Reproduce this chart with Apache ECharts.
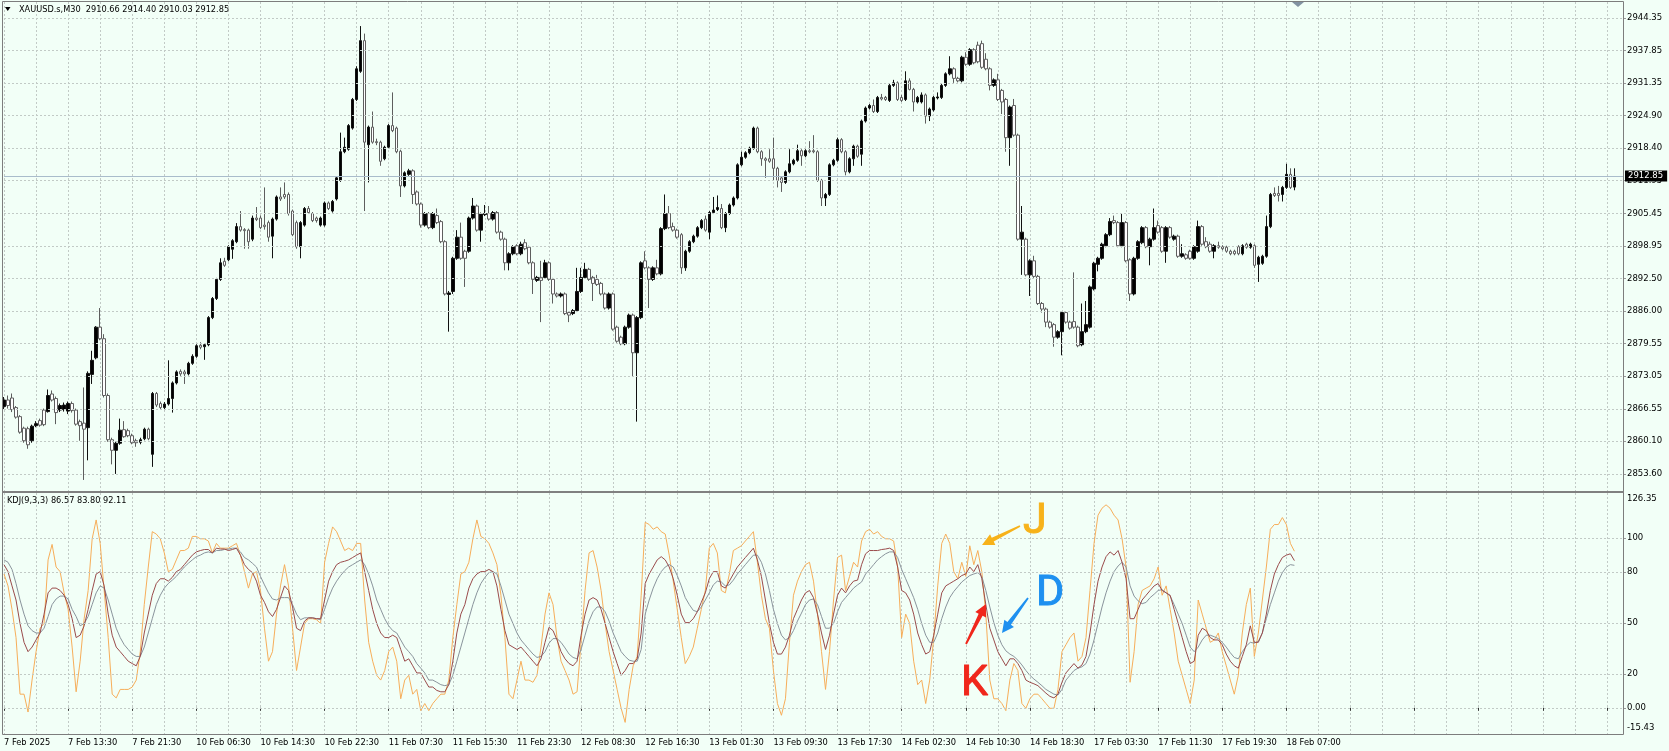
<!DOCTYPE html>
<html><head><meta charset="utf-8">
<script src="https://cdn.jsdelivr.net/npm/echarts@6.0.0/dist/echarts.min.js"></script>
<style>html,body{margin:0;padding:0;background:#F2FFF7;}#c{width:1669px;height:751px;}</style>
</head><body><div id="c"></div>
<script>
const symbolName = 'XAUUSD.s,M30';
const timeLabels = ['7 Feb 2025','7 Feb 13:30','7 Feb 21:30','10 Feb 06:30','10 Feb 14:30','10 Feb 22:30','11 Feb 07:30','11 Feb 15:30','11 Feb 23:30','12 Feb 08:30','12 Feb 16:30','13 Feb 01:30','13 Feb 09:30','13 Feb 17:30','14 Feb 02:30','14 Feb 10:30','14 Feb 18:30','17 Feb 03:30','17 Feb 11:30','17 Feb 19:30','18 Feb 07:00'];
const priceTicks = [2853.60,2860.10,2866.55,2873.05,2879.55,2886.00,2892.50,2898.95,2905.45,2911.95,2918.40,2924.90,2931.35,2937.85,2944.35];
const kdjGridValues = [0,20,50,80,100];
const kdjLabelPos = [-11.9,0,20,50,80,100,123.2];
const kdjLabelText = ['-15.43','0.00','20','50','80','100','126.35'];

const opens = [2867.0,2868.3,2868.7,2866.8,2865.0,2862.7,2862.6,2860.2,2863.2,2864.2,
2866.3,2866.0,2869.5,2868.6,2866.3,2866.4,2866.1,2867.6,2866.3,2864.0,
2863.7,2862.8,2873.4,2876.7,2882.8,2880.5,2869.2,2860.4,2858.3,2859.7,
2862.4,2862.2,2861.2,2860.2,2859.9,2860.6,2862.5,2857.5,2869.6,2867.6,
2866.8,2867.5,2868.6,2871.7,2874.0,2873.9,2873.5,2875.6,2877.0,2879.2,
2878.9,2879.3,2884.7,2888.5,2892.3,2895.9,2896.2,2898.3,2899.8,2902.8,
2902.2,2902.1,2900.3,2904.5,2904.5,2903.1,2903.6,2900.9,2904.3,2908.7,
2909.2,2909.2,2905.9,2903.6,2898.8,2903.1,2906.4,2905.4,2904.5,2903.1,
2903.1,2907.5,2905.9,2908.3,2912.0,2917.7,2918.2,2922.4,2928.1,2933.7,
2939.8,2919.1,2922.6,2919.7,2919.6,2916.3,2918.6,2922.9,2922.4,2917.8,
2910.9,2913.2,2913.9,2909.7,2907.3,2903.1,2905.4,2902.6,2905.0,2903.8,
2899.8,2889.3,2889.9,2896.5,2900.7,2897.9,2897.9,2904.5,2906.9,2902.1,
2905.2,2905.4,2904.3,2905.6,2901.7,2900.3,2895.6,2897.4,2899.0,2897.4,
2899.6,2898.7,2895.6,2892.1,2892.7,2892.7,2895.6,2892.3,2889.4,2889.0,
2889.4,2885.7,2885.5,2886.1,2889.9,2892.7,2894.3,2892.7,2892.3,2891.5,
2889.4,2886.6,2889.4,2882.8,2880.8,2879.5,2882.8,2885.2,2877.7,2884.7,
2896.0,2894.6,2892.3,2894.6,2893.4,2902.4,2905.4,2902.8,2902.1,2901.2,
2894.6,2897.9,2899.8,2900.9,2902.6,2904.3,2901.7,2905.6,2906.2,2906.4,
2902.6,2905.4,2907.1,2908.5,2915.1,2916.6,2917.5,2918.4,2922.4,2917.7,
2916.3,2916.3,2916.3,2914.4,2912.5,2911.6,2913.7,2915.3,2916.0,2917.9,
2916.9,2917.9,2917.9,2917.7,2912.0,2908.5,2909.2,2915.1,2916.0,2920.1,
2917.7,2913.7,2916.3,2918.8,2917.2,2923.8,2926.4,2926.9,2925.7,2928.5,
2928.5,2927.9,2930.9,2931.4,2928.5,2928.1,2931.8,2930.1,2927.6,2927.6,
2929.0,2924.8,2926.0,2928.4,2928.5,2930.9,2933.2,2934.2,2932.3,2931.8,
2936.5,2935.1,2938.0,2938.9,2939.2,2936.1,2934.2,2930.9,2932.0,2929.9,
2928.1,2920.5,2926.9,2921.0,2900.3,2900.3,2893.2,2896.0,2892.9,2887.5,
2886.4,2883.8,2883.3,2880.8,2881.9,2885.7,2883.8,2883.9,2882.8,2879.3,
2881.9,2882.8,2890.4,2895.3,2896.5,2899.0,2901.2,2904.0,2903.6,2899.0,
2903.6,2896.2,2889.4,2896.5,2899.6,2902.6,2898.8,2900.3,2903.0,2902.6,
2897.9,2902.6,2900.3,2900.9,2896.9,2897.2,2897.9,2896.5,2897.9,2902.8,
2899.8,2899.3,2897.9,2899.0,2898.8,2898.7,2897.9,2897.9,2898.8,2897.4,
2899.3,2898.7,2899.0,2895.3,2895.5,2896.9,2902.8,2909.4,2909.4,2909.2,
2910.6,2913.2,2910.66];

const highs = [2868.9,2869.2,2869.6,2867.1,2865.3,2863.0,2863.0,2863.4,2864.1,2864.6,
2866.6,2870.4,2870.2,2869.0,2867.6,2867.8,2868.0,2868.0,2866.6,2864.4,
2870.8,2874.0,2878.1,2883.0,2886.6,2881.4,2869.6,2860.8,2860.0,2864.6,
2864.1,2862.6,2861.6,2860.6,2860.8,2862.8,2862.8,2869.9,2869.9,2868.0,
2867.9,2876.2,2872.0,2874.2,2874.4,2874.3,2875.9,2877.4,2879.4,2879.8,
2879.6,2885.0,2888.8,2892.6,2896.5,2896.6,2899.1,2900.3,2903.5,2905.9,
2902.5,2902.4,2905.0,2906.7,2905.0,2910.6,2904.0,2904.6,2909.0,2910.6,
2911.6,2909.6,2906.2,2904.0,2903.9,2906.7,2906.9,2905.7,2904.8,2904.8,
2907.8,2907.8,2908.1,2912.8,2921.5,2920.5,2923.2,2928.4,2934.7,2942.7,
2941.2,2922.9,2925.7,2920.3,2919.9,2918.9,2923.2,2929.5,2922.7,2918.1,
2913.8,2914.3,2914.2,2910.0,2907.6,2905.7,2905.7,2905.7,2906.4,2904.1,
2900.1,2890.0,2896.8,2902.1,2903.6,2898.2,2904.8,2908.5,2907.2,2905.6,
2907.1,2906.9,2905.9,2905.9,2902.0,2900.6,2897.7,2899.1,2899.3,2899.8,
2900.3,2899.0,2895.9,2893.0,2896.0,2896.2,2895.9,2892.6,2889.7,2889.7,
2889.7,2886.0,2886.4,2894.6,2894.6,2895.6,2894.6,2893.0,2893.2,2891.8,
2889.7,2889.7,2889.7,2883.1,2881.1,2883.1,2885.5,2885.5,2885.0,2895.9,
2897.9,2894.9,2894.9,2896.2,2902.7,2909.2,2906.9,2903.6,2902.4,2901.5,
2898.2,2900.1,2901.2,2902.9,2904.3,2905.0,2905.9,2908.7,2909.0,2907.3,
2905.7,2907.4,2908.8,2915.4,2917.7,2917.8,2918.7,2922.7,2922.7,2918.0,
2916.6,2918.2,2920.5,2914.7,2912.8,2914.0,2918.2,2916.3,2919.1,2918.2,
2918.2,2919.8,2921.0,2918.0,2912.3,2909.5,2915.4,2916.3,2920.5,2920.4,
2918.0,2916.6,2919.1,2919.1,2924.1,2926.7,2927.2,2928.1,2928.8,2929.2,
2928.8,2931.2,2932.0,2931.7,2929.0,2933.7,2932.3,2930.4,2928.8,2929.5,
2929.3,2926.5,2928.8,2929.5,2931.2,2933.5,2936.7,2934.5,2932.6,2936.8,
2937.5,2938.3,2938.3,2939.6,2939.8,2937.3,2934.5,2932.3,2933.2,2930.2,
2928.4,2926.9,2928.2,2921.3,2906.9,2900.6,2896.3,2897.0,2893.2,2887.8,
2886.7,2884.1,2883.6,2882.2,2886.0,2886.0,2884.1,2893.7,2883.1,2887.5,
2888.0,2891.1,2895.8,2896.8,2899.6,2901.5,2904.5,2905.0,2903.9,2905.4,
2903.9,2896.5,2896.8,2900.1,2902.9,2902.9,2900.6,2906.4,2904.0,2902.9,
2902.9,2902.9,2901.2,2901.2,2899.3,2897.5,2898.2,2899.1,2904.0,2903.1,
2900.7,2899.8,2899.3,2899.8,2899.1,2899.0,2898.2,2898.2,2899.1,2899.3,
2899.6,2899.6,2899.3,2897.0,2897.2,2905.0,2909.5,2910.6,2910.9,2910.9,
2915.3,2914.4,2914.40];

const lows = [2866.5,2866.6,2865.9,2864.6,2861.6,2859.8,2858.6,2859.8,2862.9,2863.0,
2863.1,2865.8,2868.0,2863.5,2865.9,2866.0,2865.5,2865.8,2863.2,2860.2,
2852.4,2856.3,2871.5,2876.4,2880.2,2868.8,2860.0,2855.5,2853.6,2859.4,
2860.8,2860.9,2859.5,2859.0,2859.5,2860.3,2860.3,2855.0,2866.9,2866.4,
2866.3,2867.2,2865.8,2871.4,2873.1,2871.5,2873.2,2875.3,2876.7,2878.4,
2876.3,2879.0,2884.4,2888.2,2892.0,2894.8,2895.9,2896.4,2899.5,2901.8,
2898.4,2898.4,2899.9,2903.9,2902.3,2902.2,2899.8,2896.5,2904.0,2907.9,
2908.3,2905.0,2900.9,2898.4,2896.5,2902.8,2905.3,2903.7,2903.6,2902.8,
2902.8,2906.1,2905.6,2908.0,2911.7,2917.4,2917.9,2922.1,2927.8,2933.4,
2905.9,2911.6,2919.3,2919.0,2914.9,2916.0,2918.3,2921.6,2917.4,2908.7,
2910.6,2912.9,2907.3,2907.0,2902.6,2902.8,2902.3,2902.3,2903.3,2899.5,
2889.1,2881.9,2889.4,2896.2,2896.2,2890.8,2897.6,2904.2,2901.8,2899.8,
2904.9,2904.0,2904.0,2901.4,2900.0,2894.1,2894.1,2897.1,2897.1,2897.1,
2898.1,2895.3,2889.4,2891.8,2883.8,2892.4,2892.0,2887.5,2888.7,2888.7,
2885.2,2883.8,2885.2,2885.8,2889.6,2892.4,2892.0,2888.0,2891.0,2889.1,
2886.3,2886.3,2882.1,2879.7,2879.2,2879.2,2882.5,2872.9,2864.0,2884.4,
2894.3,2886.6,2892.0,2893.1,2893.1,2902.1,2902.3,2901.8,2900.4,2893.4,
2894.0,2897.6,2899.5,2900.6,2902.3,2901.8,2900.3,2905.3,2905.9,2902.3,
2901.7,2905.1,2906.8,2908.2,2914.8,2916.3,2917.2,2918.1,2917.4,2914.9,
2912.5,2915.5,2912.0,2910.6,2909.7,2911.3,2913.4,2915.0,2915.7,2914.9,
2916.6,2917.4,2917.4,2911.7,2906.9,2906.9,2908.9,2914.8,2915.7,2917.4,
2913.0,2913.4,2914.9,2916.5,2914.9,2923.5,2926.1,2925.4,2925.4,2927.9,
2927.8,2927.6,2930.6,2927.8,2927.6,2927.8,2929.9,2925.7,2927.3,2927.3,
2923.3,2923.8,2925.7,2928.1,2928.2,2930.6,2932.9,2931.4,2931.5,2931.5,
2934.8,2934.8,2935.1,2935.3,2934.2,2933.9,2929.9,2930.6,2927.8,2925.2,
2917.7,2914.9,2920.7,2900.0,2893.2,2892.9,2889.0,2892.6,2887.2,2885.7,
2882.8,2882.5,2878.9,2880.5,2877.2,2883.5,2882.3,2882.5,2878.8,2879.0,
2881.6,2882.5,2890.1,2893.9,2896.2,2898.7,2900.9,2903.3,2898.7,2898.7,
2895.7,2888.0,2889.1,2896.2,2899.3,2898.5,2895.1,2900.0,2901.4,2897.6,
2895.6,2900.4,2900.0,2896.6,2896.6,2896.2,2896.2,2896.2,2897.6,2899.0,
2898.5,2897.6,2896.5,2898.4,2898.1,2897.6,2897.1,2897.1,2897.1,2897.1,
2898.4,2898.4,2894.6,2891.8,2895.2,2896.6,2902.5,2908.7,2907.8,2907.8,
2910.3,2910.3,2910.03];

const closes = [2868.3,2867.2,2866.4,2864.9,2861.9,2860.2,2859.4,2863.1,2863.6,2863.3,
2863.4,2869.2,2868.3,2865.8,2867.2,2867.3,2867.6,2866.2,2863.5,2863.2,
2862.5,2873.6,2876.2,2882.8,2880.5,2869.2,2860.4,2858.3,2859.7,2862.3,
2861.0,2861.2,2859.8,2859.8,2860.4,2862.5,2860.6,2869.6,2867.3,2866.8,
2867.5,2868.6,2871.7,2873.9,2873.5,2873.5,2875.6,2877.0,2879.1,2878.8,
2879.3,2884.7,2888.5,2892.3,2895.6,2895.1,2898.8,2900.0,2902.8,2902.1,
2902.0,2899.8,2904.5,2904.2,2902.6,2902.8,2900.7,2904.3,2908.7,2908.3,
2908.7,2905.4,2901.2,2898.8,2903.6,2906.4,2905.6,2904.0,2904.0,2904.5,
2907.5,2906.4,2907.8,2912.5,2917.7,2918.6,2922.9,2928.1,2934.2,2939.8,
2919.6,2922.6,2919.6,2919.5,2915.8,2918.6,2922.9,2921.9,2917.7,2910.9,
2913.5,2913.9,2909.2,2907.3,2903.1,2905.4,2902.6,2905.4,2903.6,2899.8,
2889.4,2889.6,2896.5,2900.7,2896.5,2896.5,2904.5,2906.9,2902.1,2905.3,
2905.4,2904.3,2905.6,2901.7,2900.3,2895.6,2897.4,2898.8,2897.4,2899.3,
2898.4,2895.6,2892.3,2892.7,2892.1,2895.6,2892.3,2889.4,2889.0,2889.4,
2885.5,2885.2,2886.1,2889.9,2892.7,2894.3,2892.3,2891.5,2891.3,2889.4,
2886.6,2889.4,2882.4,2880.0,2879.5,2882.8,2885.2,2877.7,2884.7,2895.6,
2894.6,2892.3,2894.6,2893.4,2902.4,2905.4,2902.6,2902.1,2900.7,2894.6,
2897.9,2899.8,2900.9,2902.6,2904.0,2902.1,2905.6,2906.1,2906.6,2902.6,
2905.4,2907.1,2908.5,2915.1,2916.6,2917.5,2918.4,2922.4,2917.7,2916.3,
2916.0,2915.8,2914.4,2912.0,2911.6,2913.7,2915.3,2916.0,2917.9,2916.9,
2917.9,2917.7,2917.7,2912.0,2908.5,2909.2,2915.1,2916.0,2920.1,2917.7,
2913.7,2916.3,2918.8,2916.8,2923.8,2926.4,2926.9,2925.7,2928.5,2928.2,
2928.1,2930.9,2931.4,2928.1,2927.9,2931.8,2930.1,2927.6,2928.5,2929.0,
2924.8,2926.2,2928.5,2928.6,2930.9,2933.2,2934.2,2932.3,2931.8,2936.5,
2935.1,2938.0,2935.4,2935.6,2934.5,2934.2,2930.9,2932.0,2928.1,2927.6,
2920.5,2926.6,2921.0,2900.3,2901.7,2893.2,2896.0,2892.9,2887.5,2886.4,
2883.8,2882.8,2880.8,2881.9,2885.7,2883.8,2882.6,2882.8,2879.1,2881.9,
2883.3,2890.8,2895.5,2896.5,2899.3,2901.2,2903.8,2903.6,2899.0,2903.6,
2896.0,2889.4,2896.5,2899.8,2902.6,2898.8,2900.3,2902.6,2901.7,2897.9,
2902.6,2900.7,2900.9,2896.9,2897.4,2896.5,2896.5,2898.8,2902.8,2899.3,
2898.8,2897.9,2899.0,2898.7,2898.4,2897.9,2897.4,2897.4,2897.4,2899.0,
2898.7,2899.3,2895.1,2896.7,2896.9,2902.8,2909.2,2909.0,2909.0,2910.6,
2913.2,2910.6,2912.85];

const kValues = [84.2,80.1,71.7,63.4,49.6,38.5,33.0,35.7,39.9,44.0,
55.1,67.6,70.4,70.4,69.0,66.2,60.7,52.4,41.3,42.7,
48.2,57.9,69.0,78.7,80.1,71.7,55.1,42.7,35.7,33.0,
30.2,27.4,26.0,24.7,30.2,44.0,55.1,66.2,73.1,75.9,
75.9,74.5,76.7,80.1,81.4,84.2,87.0,89.8,91.7,92.5,
93.1,93.1,91.1,93.9,93.4,93.4,92.5,93.1,93.9,89.8,
84.2,81.4,79.5,74.5,66.2,62.0,56.5,53.7,57.9,64.8,
71.7,69.0,59.3,46.8,45.4,51.0,52.9,52.9,52.4,52.4,
63.4,74.5,80.1,84.2,85.6,86.2,87.0,88.4,89.8,91.1,
80.1,69.0,57.9,49.6,44.0,41.3,41.3,42.7,41.3,34.3,
27.4,28.8,24.7,20.5,20.5,16.3,12.2,12.2,10.2,9.4,
9.4,13.6,27.4,44.0,55.1,60.7,70.4,75.9,78.7,80.1,
80.1,81.4,80.1,71.7,57.9,45.4,37.1,35.7,34.3,35.7,
33.0,30.2,27.4,24.7,28.8,38.5,47.3,45.4,39.9,33.0,
28.8,26.0,24.7,27.4,42.7,55.1,63.4,64.8,63.4,57.9,
49.6,41.3,33.0,26.0,19.1,21.9,26.0,26.0,28.8,44.0,
73.1,78.7,82.8,87.0,88.9,87.0,82.8,75.9,66.2,55.1,
50.1,50.1,52.4,56.5,62.0,67.6,75.9,80.1,80.1,71.7,
70.4,74.5,78.7,82.8,85.6,88.4,91.1,93.9,87.0,77.3,
63.4,49.6,38.5,31.6,31.6,35.7,42.7,52.4,57.9,63.4,
67.6,69.0,64.8,55.1,44.0,34.3,42.7,55.1,66.2,70.4,
67.6,71.7,74.5,75.1,84.2,90.6,92.5,92.5,92.5,93.1,
93.4,93.9,92.5,82.8,69.0,67.6,63.4,55.1,44.0,37.1,
31.6,33.0,42.7,55.1,67.6,71.7,73.1,74.5,75.9,77.8,
78.7,82.8,80.1,84.2,75.9,60.7,46.8,39.9,33.0,28.8,
24.7,28.8,28.8,26.0,21.9,16.3,15.0,14.1,13.0,10.8,
8.6,6.7,5.8,8.0,15.0,20.5,23.3,26.0,23.3,25.2,
30.2,44.0,60.7,74.5,82.8,88.9,91.7,89.8,92.5,85.6,
75.9,52.4,52.4,57.9,63.4,66.2,69.0,71.7,73.1,69.0,
67.6,66.2,57.9,49.6,41.3,33.0,26.0,27.4,42.7,46.8,
45.4,41.3,39.9,39.9,37.1,31.6,27.4,24.7,23.3,30.2,
37.1,48.2,38.5,38.5,44.0,55.1,69.0,78.7,84.2,88.4,
89.8,90.6,86.57];

const dValues = [87.0,85.6,81.4,73.1,63.4,55.1,48.2,45.4,44.0,44.0,
46.8,53.7,60.7,64.0,65.7,65.7,64.0,57.9,53.7,48.2,
49.6,53.7,60.7,67.6,71.7,70.4,63.4,55.1,46.8,41.3,
37.1,34.3,31.6,30.2,30.2,35.7,44.0,52.4,60.7,66.2,
70.4,73.1,75.1,77.3,80.1,82.8,85.0,87.0,88.9,89.8,
91.1,91.7,91.1,92.5,92.5,93.1,93.4,93.9,93.9,91.7,
88.4,87.0,85.0,82.8,77.3,72.3,67.6,64.0,63.4,64.8,
64.8,64.8,60.7,55.1,51.8,52.9,52.9,52.9,52.4,51.8,
57.9,64.8,70.4,74.5,77.8,80.6,82.8,84.2,85.6,87.0,
84.2,78.7,71.7,63.4,57.9,52.4,48.2,45.4,44.0,39.9,
35.7,33.0,30.2,26.0,23.3,20.5,16.3,16.3,15.0,13.6,
13.0,13.6,19.1,27.4,35.7,44.0,52.4,60.7,67.6,73.1,
76.7,79.5,80.1,78.7,71.7,63.4,55.1,49.6,44.0,39.9,
37.1,34.3,31.6,29.6,30.2,33.0,38.0,40.7,40.7,38.5,
35.2,31.6,29.6,28.8,34.3,42.7,51.0,56.5,59.3,59.3,
56.5,51.0,44.0,38.5,33.0,30.2,28.0,27.4,27.4,34.3,
55.1,63.4,70.4,75.9,80.1,82.8,84.2,82.8,77.8,71.7,
64.8,60.7,57.3,56.5,59.3,63.4,67.6,72.3,74.5,74.0,
71.7,72.3,75.1,78.7,81.4,84.2,87.0,89.8,89.8,85.6,
78.7,69.0,57.9,49.6,42.7,39.9,41.3,45.4,51.0,55.7,
60.7,63.4,64.0,60.7,53.7,46.8,46.8,49.6,56.5,62.0,
64.8,67.6,70.4,72.3,74.0,78.7,81.4,84.2,87.0,88.9,
90.6,91.7,91.7,88.4,81.4,75.9,70.4,64.8,57.9,49.6,
42.7,38.5,38.5,44.0,52.4,59.3,64.8,68.4,71.2,74.0,
75.9,77.8,78.7,79.5,77.3,69.0,59.3,50.1,42.7,37.1,
33.5,31.6,30.2,28.0,25.2,21.9,19.1,16.9,15.0,13.0,
10.8,9.4,8.0,7.5,10.8,16.3,19.1,21.9,23.3,24.1,
26.0,31.6,39.9,49.6,59.3,67.6,74.5,80.1,83.4,85.6,
82.8,71.7,65.7,62.9,61.2,62.0,64.8,66.8,69.0,69.5,
67.6,65.7,60.7,55.1,49.6,42.7,35.7,33.0,35.7,39.9,
42.7,42.7,41.8,40.7,38.5,35.7,32.4,29.6,28.8,33.0,
36.3,38.5,38.0,39.1,44.0,52.4,60.7,67.6,74.5,79.5,
82.8,84.2,83.80];

const jValues = [78.7,71.7,57.9,41.3,8.0,8.0,-2.5,16.3,33.0,46.8,
49.6,87.0,96.1,82.8,80.1,67.6,57.9,35.7,9.4,27.4,
52.4,69.0,99.4,110.5,96.7,69.0,41.3,8.0,5.8,10.8,
10.8,10.8,12.2,16.3,33.0,60.7,82.8,103.6,102.2,99.4,
91.1,80.1,81.4,87.0,92.5,92.5,93.9,100.8,100.8,99.4,
99.4,98.1,91.1,96.7,93.9,93.9,93.9,95.3,96.7,89.8,
80.1,70.4,78.7,80.1,69.0,46.8,27.4,33.0,55.1,71.7,
84.2,71.7,46.8,21.9,35.7,49.6,52.4,52.4,51.8,49.6,
85.6,96.7,106.4,103.6,98.1,92.5,93.9,92.5,96.7,96.7,
63.4,38.5,27.4,19.1,16.3,21.9,33.0,35.7,27.4,5.3,
16.3,19.1,8.0,10.8,-1.7,2.5,-1.7,2.5,5.3,8.0,
8.0,16.3,41.3,60.7,78.7,80.1,85.6,99.4,110.5,100.8,
99.4,96.7,91.1,84.2,66.2,41.3,8.0,5.3,16.3,27.4,
16.3,16.3,15.0,19.1,35.7,55.1,67.6,60.7,41.3,27.4,
21.9,16.3,8.0,9.4,38.5,69.0,91.1,92.5,82.8,69.0,
49.6,33.0,21.9,10.8,-0.3,-8.6,10.8,24.7,30.2,66.2,
109.1,107.8,105.0,106.4,103.6,102.2,89.8,74.5,57.9,41.3,
26.0,30.2,35.7,46.8,57.9,69.0,93.9,96.7,91.1,69.0,
67.6,78.7,92.5,93.9,95.3,98.1,100.8,103.6,85.6,66.2,
52.4,46.8,21.9,2.5,-4.4,5.3,38.5,66.2,74.5,80.1,
84.2,85.6,74.5,55.1,33.0,10.8,33.0,63.4,88.4,89.8,
69.0,77.3,85.6,82.8,98.1,103.6,105.0,102.2,103.6,100.8,
99.4,99.4,98.1,82.8,41.3,55.1,49.6,27.4,13.6,16.3,
2.5,16.3,41.3,71.7,96.7,102.2,96.7,80.1,75.9,85.6,
77.3,95.3,84.2,92.5,80.1,55.1,16.3,5.3,5.3,2.5,
-1.7,16.3,26.0,21.9,2.5,-0.3,5.3,8.0,8.0,5.3,
2.5,-0.3,-0.3,10.8,33.0,37.1,41.3,44.0,27.4,30.2,
41.3,69.0,96.7,113.3,117.4,119.4,117.4,113.3,110.5,99.4,
82.8,15.0,33.0,60.7,69.0,70.4,71.7,75.9,82.8,66.2,
71.7,57.9,44.0,27.4,19.1,10.8,2.5,16.3,63.4,55.1,
46.8,38.5,39.9,44.0,33.0,24.7,16.3,8.0,19.1,44.0,
60.7,70.4,30.2,44.0,63.4,82.8,105.0,107.8,107.8,111.9,
107.8,96.7,92.11];

// ---------- build ----------
const SLOTS = 405;                  // bars + empty chart-shift area
const cats = [];
for (let i = 0; i < SLOTS; i++) cats.push(String(i));
const candles = opens.map((o, i) => [o, closes[i], lows[i], highs[i]]);
const last = opens.length - 1;
const FONT = 'DejaVu Sans';
const gridLine = {color: '#c2cac6', type: [2, 2], width: 1};

const titleText = symbolName + '  ' + opens[last].toFixed(2) + ' ' + highs[last].toFixed(2) + ' ' +
  lows[last].toFixed(2) + ' ' + closes[last].toFixed(2);
const kdjText = 'KDJ(9,3,3) ' + kValues[last].toFixed(2) + ' ' + dValues[last].toFixed(2) + ' ' + jValues[last].toFixed(2);

function arrow(x1, y1, x2, y2, color) {
  const dx = x2 - x1, dy = y2 - y1, len = Math.hypot(dx, dy);
  const ux = dx / len, uy = dy / len, nx = -uy, ny = ux;
  const hl = 12, hw = 6, w0 = 0.9, w1 = 2.2;
  const bx = x2 - ux * hl, by = y2 - uy * hl;
  return {type: 'polygon', z: 100, silent: true,
    shape: {points: [[x1 + nx * w0, y1 + ny * w0], [bx + nx * w1, by + ny * w1], [bx + nx * hw, by + ny * hw], [x2, y2],
      [bx - nx * hw, by - ny * hw], [bx - nx * w1, by - ny * w1], [x1 - nx * w0, y1 - ny * w0]]},
    style: {fill: color}};
}
function letter(t, x, y, color) {
  return {type: 'text', x: x, y: y, z: 100, silent: true,
    style: {text: t, fill: color, stroke: color, lineWidth: 1, font: '43px Roboto', align: 'left', verticalAlign: 'middle'}};
}

const chart = echarts.init(document.getElementById('c'), null, {renderer: 'canvas'});
const option = {
  animation: false,
  backgroundColor: '#F2FFF7',
  grid: [
    {left: 4, right: 46, top: 2, height: 489, show: false, outerBoundsMode: 'none', containLabel: false},
    {left: 4, right: 46, top: 493, height: 241, show: false, outerBoundsMode: 'none', containLabel: false}
  ],
  xAxis: [
    {type: 'category', gridIndex: 0, data: cats, boundaryGap: false,
      axisLine: {show: false}, axisTick: {show: false}, axisLabel: {show: false},
      splitLine: {show: true, interval: (i) => i % 8 === 0, lineStyle: gridLine}},
    {type: 'category', gridIndex: 1, data: cats, boundaryGap: false,
      axisLine: {show: false},
      axisTick: {show: true, interval: (i) => i % 16 === 0, length: 3, lineStyle: {color: '#333'}},
      axisLabel: {show: true, interval: (i) => i % 16 === 0, hideOverlap: false,
        formatter: (v, i) => (i % 16 === 0 && timeLabels[i / 16]) ? timeLabels[i / 16] : '',
        align: 'left', margin: 5, fontSize: 8.3, fontFamily: FONT, color: '#000'},
      splitLine: {show: true, interval: (i) => i % 8 === 0, lineStyle: gridLine}}
  ],
  yAxis: [
    {type: 'value', gridIndex: 0, position: 'right', min: 2850.20, max: 2947.49, scale: true,
      splitLine: {show: false}, axisLine: {show: false},
      axisTick: {show: true, customValues: priceTicks, length: 3, lineStyle: {color: '#999'}},
      axisLabel: {show: true, customValues: priceTicks, formatter: (v) => Number(v).toFixed(2), margin: 4,
        fontSize: 8.5, fontFamily: FONT, color: '#000', showMinLabel: true, showMaxLabel: true}},
    {type: 'value', gridIndex: 1, position: 'right', min: -15.43, max: 126.35,
      splitLine: {show: false}, axisLine: {show: false},
      axisTick: {show: true, customValues: kdjGridValues, length: 3, lineStyle: {color: '#999'}},
      axisLabel: {show: true, customValues: kdjLabelPos, margin: 4, fontSize: 8.5, fontFamily: FONT, color: '#000',
        showMinLabel: true, showMaxLabel: true,
        formatter: (v) => { for (let k = 0; k < kdjLabelPos.length; k++) { if (Math.abs(kdjLabelPos[k] - v) < 1e-6) return kdjLabelText[k]; } return ''; }}}
  ],
  series: [
    {type: 'line', xAxisIndex: 0, yAxisIndex: 0, data: [], z: 1, silent: true,
      markLine: {silent: true, symbol: 'none', animation: false, label: {show: false},
        lineStyle: gridLine, data: priceTicks.map(v => ({yAxis: v}))}},
    {type: 'line', xAxisIndex: 1, yAxisIndex: 1, data: [], z: 1, silent: true,
      markLine: {silent: true, symbol: 'none', animation: false, label: {show: false},
        lineStyle: gridLine, data: kdjGridValues.map(v => ({yAxis: v}))}},
    {type: 'candlestick', name: 'XAUUSD', xAxisIndex: 0, yAxisIndex: 0, data: candles, barWidth: 3, z: 3,
      itemStyle: {color: '#000000', borderColor: '#111111', color0: '#ffffff', borderColor0: '#5e5e5e', borderWidth: 1},
      markLine: {silent: true, symbol: 'none', animation: false,
        data: [{yAxis: closes[last]}],
        lineStyle: {color: '#a9bccb', type: 'solid', width: 1},
        label: {show: true, position: 'end', distance: 2, formatter: () => closes[last].toFixed(2),
          backgroundColor: '#000', color: '#fff', padding: [1, 4, 1, 3], fontSize: 8.5, fontFamily: FONT}}},
    {type: 'line', name: 'K', xAxisIndex: 1, yAxisIndex: 1, data: kValues, showSymbol: false, z: 4,
      lineStyle: {color: '#9a4b4b', width: 1}},
    {type: 'line', name: 'D', xAxisIndex: 1, yAxisIndex: 1, data: dValues, showSymbol: false, z: 3,
      lineStyle: {color: '#8a949c', width: 1}},
    {type: 'line', name: 'J', xAxisIndex: 1, yAxisIndex: 1, data: jValues, showSymbol: false, z: 2,
      lineStyle: {color: '#f7ae5a', width: 1}}
  ],
  graphic: [
    {type: 'rect', silent: true, z: 50, shape: {x: 2.5, y: 1.5, width: 1621, height: 733}, style: {fill: null, stroke: '#7d7d7d', lineWidth: 1}},
    {type: 'rect', silent: true, z: 50, shape: {x: 2, y: 491, width: 1622, height: 2}, style: {fill: '#808080'}},
    {type: 'polygon', silent: true, z: 60, shape: {points: [[5, 7], [10.5, 7], [7.75, 11]]}, style: {fill: '#000'}},
    {type: 'text', silent: true, z: 60, x: 19, y: 10, style: {text: titleText, fill: '#000', font: '8.2px "DejaVu Sans"', align: 'left', verticalAlign: 'middle'}},
    {type: 'text', silent: true, z: 60, x: 7, y: 501, style: {text: kdjText, fill: '#000', font: '8.2px "DejaVu Sans"', align: 'left', verticalAlign: 'middle'}},
    {type: 'polygon', silent: true, z: 60, shape: {points: [[1292, 2], [1304, 2], [1298, 7]]}, style: {fill: '#8293a2'}},
    arrow(1020, 526, 982, 545, '#f7b21a'),
    arrow(1028, 598, 1002, 633, '#1e90f0'),
    arrow(966, 644, 986, 604, '#f0261b'),
    letter('J', 1023, 522, '#f7b21a'),
    letter('D', 1036, 594, '#1e90f0'),
    letter('K', 961, 684, '#f0261b')
  ]
};
chart.setOption(option);
</script>
</body></html>
